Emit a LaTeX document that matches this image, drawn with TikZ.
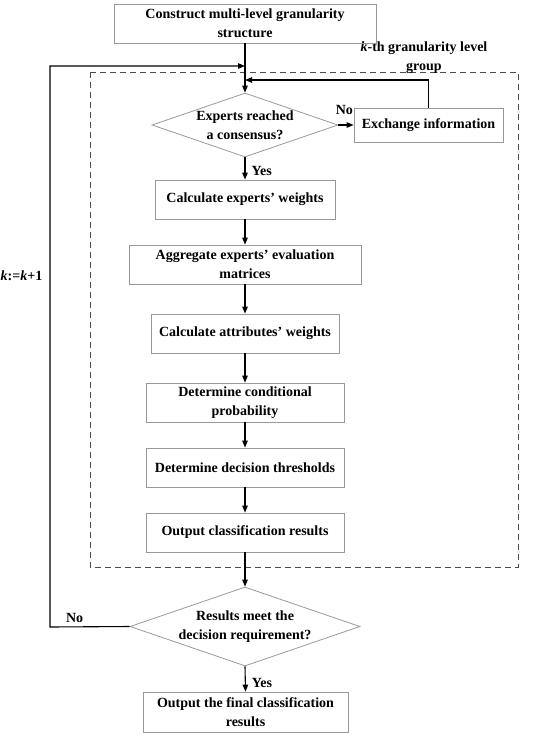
\documentclass[tikz,border=0pt]{standalone}
\usepackage{fontspec}
\setmainfont{Liberation Serif}
\usepackage{tikz}
\usetikzlibrary{positioning,arrows.meta,calc,shapes.geometric}
\tikzset{
  txt/.style={font=\fontsize{14}{19}\selectfont\bfseries,align=center},
  stepbox/.style={txt,draw=black!40,line width=0.8pt,minimum height=39pt,inner sep=2pt},
  decide/.style={txt,diamond,draw=black!40,line width=0.8pt,inner sep=0pt},
  flow/.style={-{Triangle[length=7pt,width=5.5pt]},line width=1.1pt},
  lbl/.style={font=\fontsize{14}{19}\selectfont\bfseries,inner sep=0pt},
  grpbox/.style={draw=black!70,line width=0.9pt,dash pattern=on 6pt off 4pt},
}
\begin{document}
\begin{tikzpicture}[x=1pt,y=-1pt]
  \useasboundingbox (0,0) rectangle (550,735);
  % group of one granularity level
  \draw[grpbox] (90,72) rectangle (518,567);
  \node[txt,inner sep=0pt] (glbl) at (424,58) {\textit{k}-th granularity level\\group};
  % main column
  \node[stepbox,minimum width=262pt] (build) at (245,23.5) {Construct multi-level granularity\\structure};
  \node[decide,minimum width=186pt,minimum height=64pt,aspect=2.9] (cons) at (245,125) {Experts reached\\a consensus?};
  \node[stepbox,minimum width=149pt,minimum height=34pt] (exch) at (428.5,125) {Exchange information};
  \node[stepbox,minimum width=180pt] (ewt) at (245,199.5) {Calculate experts’ weights};
  \node[stepbox,minimum width=232pt] (aggr) at (245,264.5) {Aggregate experts’ evaluation\\matrices};
  \node[stepbox,minimum width=188pt] (awt) at (245,333.5) {Calculate attributes’ weights};
  \node[stepbox,minimum width=198pt] (cprob) at (245,402.5) {Determine conditional\\probability};
  \node[stepbox,minimum width=198pt] (thr) at (245,467.5) {Determine decision thresholds};
  \node[stepbox,minimum width=198pt] (outc) at (245,532.5) {Output classification results};
  \node[decide,minimum width=230pt,minimum height=79pt,aspect=2.9] (req) at (245,626.5) {Results meet the\\decision requirement?};
  \node[stepbox,minimum width=205pt,minimum height=40pt] (final) at (245.5,712) {Output the final classification\\results};
  \node[lbl] (kinc) at (21.5,276) {\textit{k}:=\textit{k}+1};
  % turning points
  \coordinate (jnex) at (245,80);
  \coordinate (jnk) at (245,66);
  \coordinate (lpk) at (50,627);
  % connectors
  \draw[flow] (build.south) -- (cons.north);
  \draw[flow] (cons.east) -- node[lbl,at start,above=10pt,xshift=6pt]{No} (exch.west);
  \draw[flow] (exch.north) |- (jnex);
  \draw[flow] (cons.south) -- node[lbl,pos=0.6,right=6pt]{Yes} (ewt.north);
  \draw[flow] (ewt) -- (aggr);
  \draw[flow] (aggr) -- (awt);
  \draw[flow] (awt) -- (cprob);
  \draw[flow] (cprob) -- (thr);
  \draw[flow] (thr) -- (outc);
  \draw[flow] (outc.south) -- (req.north);
  \draw[flow] (req.west) -- node[lbl,pos=0.69,above=4pt]{No} (lpk) |- (jnk);
  \draw[flow] (req.south) -- node[lbl,pos=0.65,right=6pt]{Yes} (final.north);
\end{tikzpicture}
\end{document}
